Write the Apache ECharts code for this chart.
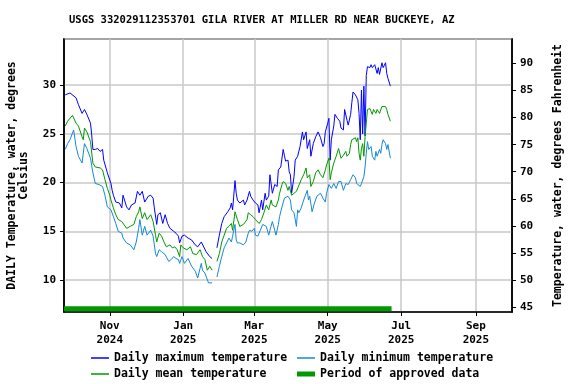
<!DOCTYPE html>
<html>
<head>
<meta charset="utf-8">
<script src="https://cdn.jsdelivr.net/npm/echarts@6/dist/echarts.min.js"></script>
<style>
  html, body { margin: 0; padding: 0; background: #fff; }
  #chart { width: 576px; height: 384px; }
</style>
</head>
<body>
<div id="chart"></div>
<script>
const titleText = 'USGS 332029112353701 GILA RIVER AT MILLER RD NEAR BUCKEYE, AZ';
const axisStart = '2024-09-24';
const axisEnd = '2025-10-01';
const dataStart = '2024-09-25';
const labelMonths = [11, 1, 3, 5, 7, 9];
const monthNames = ['Jan', 'Feb', 'Mar', 'Apr', 'May', 'Jun', 'Jul', 'Aug', 'Sep', 'Oct', 'Nov', 'Dec'];

// [days after dataStart, deg C]
const maxTemp = [[0,29.0],[4,29.2],[9,28.7],[11,28.0],[14,27.1],[16,27.5],[18,27.0],[21,26.1],[22,24.9],[23,23.4],[25,23.4],[27,23.5],[29,23.2],[31,23.4],[32,22.3],[35,21.0],[38,19.9],[39,19.2],[40,18.7],[42,18.0],[45,17.9],[47,17.4],[48,18.7],[49,18.9],[51,17.5],[53,17.2],[55,17.7],[58,17.9],[60,19.1],[62,18.7],[64,19.1],[66,18.0],[67,18.2],[69,18.6],[71,18.7],[73,18.4],[74,17.4],[76,15.7],[77,16.7],[79,16.9],[81,15.8],[83,16.7],[85,15.8],[87,15.3],[90,15.0],[92,14.8],[94,14.5],[95,13.8],[97,14.5],[99,14.6],[102,14.3],[105,14.1],[108,13.6],[110,13.4],[113,13.9],[114,13.8],[117,12.9],[120,12.4],[122,12.2],[124,null],[126,13.3],[128,14.6],[130,15.8],[132,16.5],[135,17.0],[137,17.4],[138,17.9],[139,17.2],[141,20.2],[142,18.9],[143,18.2],[145,17.9],[148,18.2],[149,17.7],[151,18.2],[153,19.1],[154,18.6],[156,18.2],[158,17.9],[160,17.7],[161,16.9],[163,18.2],[164,17.2],[166,18.9],[167,18.2],[169,18.6],[170,20.8],[172,18.9],[174,19.8],[176,19.6],[177,21.3],[179,21.6],[181,23.4],[182,22.8],[183,22.2],[185,22.3],[186,21.1],[187,20.8],[188,18.9],[190,20.6],[191,22.3],[193,22.7],[195,23.7],[197,25.2],[198,24.4],[200,25.2],[201,23.5],[203,24.4],[204,22.7],[206,24.0],[208,24.7],[210,25.2],[212,24.6],[214,23.7],[215,24.0],[216,25.2],[218,26.1],[219,26.6],[220,22.3],[221,24.4],[223,25.8],[224,27.0],[226,26.6],[227,26.8],[228,26.3],[229,25.6],[231,25.4],[232,27.5],[234,26.4],[235,25.9],[237,27.0],[238,28.2],[239,29.3],[241,29.0],[242,29.2],[243,28.5],[244,27.1],[245,24.4],[246,29.5],[247,25.0],[248,29.9],[249,24.8],[250,31.0],[251,31.9],[253,31.8],[254,32.1],[255,31.8],[257,32.1],[259,31.2],[260,31.8],[261,31.1],[263,32.3],[264,31.8],[266,32.3],[267,31.2],[268,30.7],[270,29.9]];

const meanTemp = [[0,25.8],[2,26.3],[6,26.9],[7,26.8],[9,26.1],[11,25.8],[14,24.7],[15,24.4],[16,25.6],[18,25.2],[21,24.2],[23,22.0],[25,21.6],[29,21.5],[31,21.3],[33,20.3],[35,19.4],[37,18.7],[38,18.2],[40,17.4],[42,16.7],[44,16.2],[47,16.0],[48,16.0],[51,15.3],[54,15.5],[57,15.7],[59,16.5],[61,17.0],[62,17.5],[64,16.3],[66,16.9],[68,16.2],[71,16.7],[73,16.0],[75,14.6],[76,13.9],[78,14.8],[80,14.5],[82,13.9],[84,13.4],[87,13.6],[89,13.3],[91,13.4],[93,13.1],[95,12.4],[96,13.6],[98,13.3],[101,13.1],[104,13.4],[106,12.7],[109,12.6],[112,13.1],[114,12.4],[116,12.1],[118,11.0],[120,11.4],[122,11.0],[124,null],[126,11.9],[128,12.7],[130,13.9],[132,14.6],[134,15.3],[136,15.5],[138,15.8],[139,15.1],[141,17.0],[143,16.2],[145,15.5],[148,15.7],[149,15.5],[151,16.2],[152,16.9],[154,16.7],[156,16.5],[158,16.2],[161,15.8],[163,16.2],[165,16.9],[166,16.7],[167,17.7],[169,17.2],[171,18.2],[172,17.7],[175,17.5],[177,18.2],[178,18.9],[180,19.8],[181,20.1],[183,19.9],[185,19.2],[186,19.6],[188,18.7],[189,18.6],[190,18.9],[192,19.1],[193,19.2],[196,20.3],[198,20.8],[200,21.5],[201,20.5],[203,20.8],[204,19.6],[206,20.1],[208,21.0],[210,21.3],[212,20.8],[214,20.5],[216,21.3],[217,21.8],[219,22.5],[220,20.3],[221,21.0],[223,22.0],[225,22.7],[227,23.5],[228,23.4],[229,22.5],[231,22.8],[233,23.2],[234,22.7],[236,23.0],[237,23.9],[238,24.4],[239,24.6],[241,24.6],[242,24.2],[243,24.6],[244,23.0],[245,22.3],[246,23.5],[247,24.0],[248,22.7],[249,24.7],[250,26.1],[251,27.5],[253,27.6],[254,27.3],[255,27.0],[256,27.5],[258,27.1],[259,27.5],[261,27.1],[263,27.8],[264,28.0],[266,27.8],[267,27.5],[268,27.0],[270,26.3]];

const minTemp = [[0,23.4],[2,24.0],[4,24.4],[7,25.4],[9,23.7],[11,22.7],[14,22.0],[16,24.0],[18,23.5],[21,22.5],[23,21.0],[25,19.9],[28,19.8],[31,19.6],[33,18.7],[35,17.5],[38,17.2],[40,16.5],[42,15.8],[44,15.0],[47,14.8],[48,14.3],[51,13.8],[54,13.6],[57,13.1],[59,13.9],[61,15.3],[62,16.2],[64,14.6],[66,15.5],[68,14.6],[71,15.1],[73,14.5],[75,12.7],[76,12.4],[78,13.1],[80,12.9],[83,12.6],[86,11.9],[88,12.1],[90,12.4],[92,12.2],[94,12.1],[95,11.7],[97,12.4],[99,11.7],[102,12.2],[105,11.4],[108,10.9],[110,10.2],[113,11.7],[114,11.0],[116,10.7],[119,9.7],[120,9.5],[122,9.7],[124,null],[126,10.3],[128,11.4],[130,12.4],[132,13.3],[134,13.8],[136,14.3],[138,13.9],[139,14.5],[141,15.7],[142,14.1],[143,13.8],[145,13.8],[148,13.6],[150,13.9],[152,14.8],[153,15.1],[155,15.0],[157,15.3],[158,14.6],[160,14.5],[162,15.1],[164,15.7],[165,15.8],[167,15.5],[169,14.6],[170,15.1],[172,16.0],[174,15.1],[175,14.6],[177,15.7],[178,16.5],[180,17.5],[182,18.4],[183,18.2],[185,18.6],[187,18.2],[188,17.2],[190,16.9],[192,15.5],[193,17.2],[194,16.9],[196,17.4],[198,18.2],[201,19.2],[202,18.2],[203,18.6],[205,17.0],[207,17.9],[209,18.6],[212,18.9],[214,18.4],[216,18.0],[217,18.9],[219,19.8],[221,19.4],[223,19.9],[225,19.4],[227,20.1],[229,20.1],[231,19.2],[233,19.9],[235,19.8],[237,20.3],[239,20.8],[241,20.5],[242,19.9],[243,19.8],[245,19.6],[246,19.9],[248,20.6],[249,21.6],[250,23.0],[251,24.2],[252,23.4],[254,23.7],[255,22.7],[257,22.3],[258,23.2],[259,22.7],[261,23.4],[262,23.0],[263,23.9],[264,24.4],[266,24.0],[267,23.4],[268,23.9],[270,22.5]];

const approvedPeriod = ['2024-09-24', '2025-06-23'];
const approvedLevel = 7.04;
const celsiusMin = 6.71;
const celsiusMax = 34.74;

function ymd(t) {
  return new Date(t).toISOString().slice(0, 10);
}
const DAY = 86400000;
const categories = [];
for (let t = Date.parse(axisStart); t <= Date.parse(axisEnd); t += DAY) categories.push(ymd(t));

const t0 = Date.parse(dataStart);
function toSeries(pts) {
  return pts.map(p => [ymd(t0 + p[0] * DAY), p[1] === null ? '-' : p[1]]);
}

function isLabelDay(index) {
  const v = categories[index];
  return v.slice(8) === '01' && labelMonths.indexOf(+v.slice(5, 7)) >= 0;
}

const font = 'DejaVu Sans Mono';
const txt = { fontFamily: font, fontWeight: 'bold', color: '#000', fontSize: 11 };
const gridStyle = { color: '#c8c8c8', width: 1.5 };

// one legend box per entry, laid out in two columns like the original
function legendItem(name, left, top, h) {
  return {
    left: left, top: top, itemWidth: 18, itemHeight: h, icon: 'rect',
    textStyle: Object.assign({}, txt, { fontSize: 11.5 }),
    data: [name]
  };
}

const chart = echarts.init(document.getElementById('chart'));
chart.setOption({
  animation: false,
  backgroundColor: '#fff',
  textStyle: { fontFamily: font },
  title: {
    text: titleText,
    left: 64,
    top: 10,
    textStyle: { fontFamily: font, fontWeight: 'bold', fontSize: 10.5, color: '#000' }
  },
  grid: {
    left: 64, right: 64, top: 39, bottom: 72,
    containLabel: false, outerBoundsMode: 'none',
    show: true, borderColor: '#000', borderWidth: 1.5
  },
  legend: [
    legendItem('Daily maximum temperature', 86, 347, 1.5),
    legendItem('Daily mean temperature', 86, 363, 1.5),
    legendItem('Daily minimum temperature', 292, 347, 1.5),
    legendItem('Period of approved data', 292, 363, 5)
  ],
  xAxis: {
    type: 'category',
    data: categories,
    boundaryGap: false,
    axisLine: { lineStyle: { color: '#000', width: 1.5 } },
    axisTick: { interval: isLabelDay, length: 4, lineStyle: { color: '#000' } },
    axisLabel: Object.assign({}, txt, {
      interval: isLabelDay,
      margin: 7,
      lineHeight: 14,
      formatter: v => monthNames[+v.slice(5, 7) - 1] + '\n' + v.slice(0, 4)
    }),
    splitLine: { show: true, interval: isLabelDay, lineStyle: gridStyle }
  },
  yAxis: [{
    type: 'value',
    min: celsiusMin,
    max: celsiusMax,
    splitNumber: 6,
    name: 'DAILY Temperature, water, degrees\nCelsius',
    nameLocation: 'middle',
    nameRotate: 90,
    nameGap: 34,
    nameTextStyle: Object.assign({}, txt, { fontSize: 11.5, lineHeight: 12 }),
    axisLine: { show: true, lineStyle: { color: '#000', width: 1.5 } },
    axisTick: { show: true, length: 4, lineStyle: { color: '#000' } },
    axisLabel: Object.assign({}, txt, { margin: 8, showMinLabel: false, showMaxLabel: false }),
    splitLine: { show: true, lineStyle: gridStyle }
  }, {
    type: 'value',
    position: 'right',
    min: celsiusMin * 1.8 + 32,
    max: celsiusMax * 1.8 + 32,
    splitNumber: 10,
    name: 'Temperature, water, degrees Fahrenheit',
    nameLocation: 'middle',
    nameRotate: 90,
    nameGap: 40,
    nameTextStyle: Object.assign({}, txt, { fontSize: 11.5 }),
    axisLine: { show: true, lineStyle: { color: '#000', width: 1.5 } },
    axisTick: { show: true, length: 4, lineStyle: { color: '#000' } },
    axisLabel: Object.assign({}, txt, { margin: 8, showMinLabel: false, showMaxLabel: false }),
    splitLine: { show: false }
  }],
  series: [{
    name: 'Daily maximum temperature',
    type: 'line',
    data: toSeries(maxTemp),
    symbol: 'none',
    lineStyle: { color: '#0000ff', width: 1 },
    itemStyle: { color: '#0000ff' }
  }, {
    name: 'Daily minimum temperature',
    type: 'line',
    data: toSeries(minTemp),
    symbol: 'none',
    lineStyle: { color: '#1589d8', width: 1 },
    itemStyle: { color: '#1589d8' }
  }, {
    name: 'Daily mean temperature',
    type: 'line',
    data: toSeries(meanTemp),
    symbol: 'none',
    lineStyle: { color: '#009900', width: 1 },
    itemStyle: { color: '#009900' }
  }, {
    name: 'Period of approved data',
    type: 'line',
    data: approvedPeriod.map(d => [d, approvedLevel]),
    symbol: 'none',
    lineStyle: { color: '#009900', width: 5 },
    itemStyle: { color: '#009900' }
  }]
});
</script>
</body>
</html>
